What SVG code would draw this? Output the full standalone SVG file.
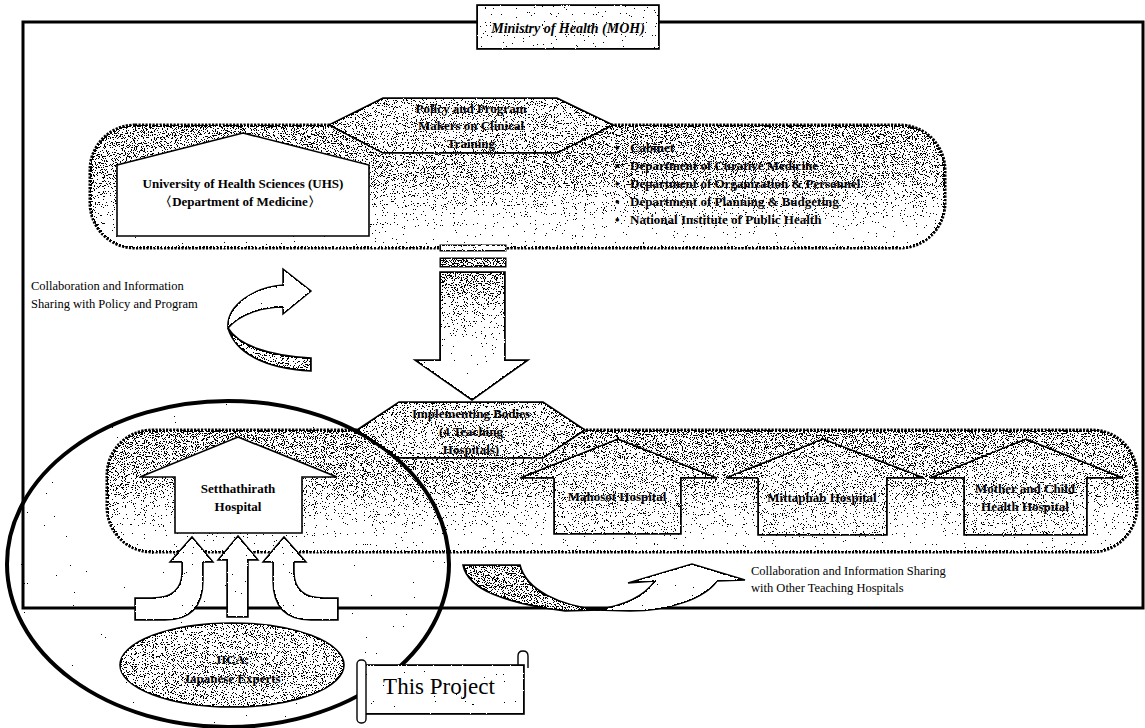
<svg xmlns="http://www.w3.org/2000/svg" width="1145" height="728" viewBox="0 0 1145 728">
<style>
.lbl{font-family:"Liberation Serif","Times New Roman",serif;font-weight:bold;font-size:13px;fill:#000}
.reg{font-family:"Liberation Serif","Times New Roman",serif;font-size:12.5px;fill:#000}
.ln{stroke:#000;stroke-width:1.6;stroke-linejoin:miter}
.dots{fill:url(#gCont);stroke:#000;stroke-width:3;stroke-dasharray:2.2 1.3;filter:url(#st)}
.house{fill:url(#gHouse);stroke:#000;stroke-width:1.6;filter:url(#st)}
.hex{fill:#aaaaaa;stroke:#000;stroke-width:1.6;filter:url(#st)}
.arw{fill:#ededed;stroke:#000;stroke-width:1.5;stroke-linejoin:miter;filter:url(#st)}
.stp{filter:url(#st)}
</style>
<defs>
<filter id="st" color-interpolation-filters="sRGB" x="-3%" y="-3%" width="106%" height="106%">
<feTurbulence type="fractalNoise" baseFrequency="0.9" numOctaves="2" seed="7" result="tn"/>
<feColorMatrix in="tn" type="matrix" values="0 0 0 0 0  0 0 0 0 0  0 0 0 0 0  1.5 0 0 0 -0.25" result="na0"/>
<feComponentTransfer in="na0" result="na"><feFuncA type="linear" slope="0.96" intercept="0.02"/></feComponentTransfer>
<feColorMatrix in="SourceGraphic" type="matrix" values="0 0 0 0 0  0 0 0 0 0  0 0 0 0 0  1 0 0 0 0" result="sa"/>
<feComposite in="sa" in2="na" operator="arithmetic" k1="0" k2="1" k3="-1" k4="0.5" result="diff"/>
<feComponentTransfer in="diff" result="mask"><feFuncA type="discrete" tableValues="0 1"/></feComponentTransfer>
<feFlood flood-color="#000" result="blk"/>
<feFlood flood-color="#fff" result="wht"/>
<feComposite in="wht" in2="mask" operator="in" result="w"/>
<feMerge result="m"><feMergeNode in="blk"/><feMergeNode in="w"/></feMerge>
<feComposite in="m" in2="SourceAlpha" operator="in"/>
</filter>
<linearGradient id="gCont" x1="0" y1="0" x2="0" y2="1">
<stop offset="0" stop-color="#979797"/>
<stop offset="0.45" stop-color="#a4a4a4"/>
<stop offset="0.8" stop-color="#cecece"/>
<stop offset="1" stop-color="#e6e6e6"/>
</linearGradient>
<linearGradient id="gHouse" x1="0" y1="0" x2="0" y2="1">
<stop offset="0" stop-color="#a4a4a4"/>
<stop offset="1" stop-color="#b8b8b8"/>
</linearGradient>
<linearGradient id="gShaft" x1="0" y1="0" x2="0" y2="1">
<stop offset="0" stop-color="#8e8e8e"/>
<stop offset="0.7" stop-color="#e4e4e4"/>
<stop offset="1" stop-color="#ffffff"/>
</linearGradient>
</defs>
<rect x="0" y="0" width="1145" height="728" fill="#fff"/>

<g id="project-area">
<ellipse class="stp" cx="228" cy="564" rx="221" ry="163" fill="#f6f6f6"/>
</g>

<g id="moh-frame">
<rect x="23" y="22" width="1120" height="586" fill="none" stroke="#000" stroke-width="3"/>
</g>

<g id="moh-label">
<rect class="stp" x="477" y="5" width="182" height="44" fill="#d6d6d6" stroke="#000" stroke-width="1.6"/>
<text x="568" y="33" text-anchor="middle" style="font-family:'Liberation Serif','Times New Roman',serif;font-weight:bold;font-style:italic;font-size:14px">Ministry of Health (MOH)</text>
</g>

<g id="policy-group">
<rect class="dots" x="90" y="125" width="855" height="123" rx="45" ry="45"/>
</g>

<g id="uhs">
<polygon points="117,165 243,133 369,165 369,236 117,236" fill="#fff" stroke="#000" stroke-width="1.6"/>
<text class="lbl" x="243" y="188" text-anchor="middle">University of Health Sciences (UHS)</text>
<text class="lbl" x="240" y="206" text-anchor="middle">〈Department of Medicine〉</text>
</g>

<g id="policy-makers">
<polygon class="hex" points="329,125 383,98 557,98 613,125 557,153 383,153"/>
<text class="lbl" x="471" y="113" text-anchor="middle">Policy and Program</text>
<text class="lbl" x="471" y="130" text-anchor="middle">Makers on Clinical</text>
<text class="lbl" x="471" y="148" text-anchor="middle">Training</text>
</g>

<g id="policy-list">
<text class="lbl" x="615" y="152">•</text><text class="lbl" x="630" y="152">Cabinet</text>
<text class="lbl" x="615" y="170">•</text><text class="lbl" x="630" y="170">Department of Curative Medicine</text>
<text class="lbl" x="615" y="188">•</text><text class="lbl" x="630" y="188">Department of Organization &amp; Personnel</text>
<text class="lbl" x="615" y="206">•</text><text class="lbl" x="630" y="206">Department of Planning &amp; Budgeting</text>
<text class="lbl" x="615" y="224">•</text><text class="lbl" x="630" y="224">National Institute of Public Health</text>
</g>

<g id="hospitals-group">
<rect class="dots" x="107" y="430" width="1030" height="122" rx="45" ry="45"/>
</g>

<g id="setthathirath">
<polygon points="140,477 238,437 337,477 302,477 302,533 175,533 175,477" fill="#fff" stroke="#000" stroke-width="1.6"/>
<text class="lbl" x="238" y="493" text-anchor="middle">Setthathirath</text>
<text class="lbl" x="238" y="511" text-anchor="middle">Hospital</text>
</g>

<g id="mahosot">
<polygon class="house" points="520,478 618,439 717,478 681,478 681,534 554,534 554,478"/>
<text class="lbl" x="617" y="501" text-anchor="middle">Mahosot Hospital</text>
</g>

<g id="mittaphab">
<polygon class="house" points="726,478 823,439 924,478 887,478 887,535 758,535 758,478"/>
<text class="lbl" x="822" y="502" text-anchor="middle">Mittaphab Hospital</text>
</g>

<g id="mother-child">
<polygon class="house" points="930,478 1026,439 1123,478 1087,478 1087,535 964,535 964,478"/>
<text class="lbl" x="1025" y="493" text-anchor="middle">Mother and Child</text>
<text class="lbl" x="1025" y="511" text-anchor="middle">Health Hospital</text>
</g>

<g id="project-outline">
<ellipse cx="228" cy="564" rx="221" ry="163" fill="none" stroke="#000" stroke-width="4"/>
</g>

<g id="implementing">
<polygon class="hex" points="357,430 399,402 543,402 585,430 543,458 399,458"/>
<text class="lbl" x="471" y="418" text-anchor="middle">Implementing Bodies</text>
<text class="lbl" x="471" y="436" text-anchor="middle">(4 Teaching</text>
<text class="lbl" x="471" y="454" text-anchor="middle">Hospitals)</text>
</g>

<g id="connectors">
<rect class="stp" x="440" y="245" width="66" height="6" fill="#c8c8c8" stroke="#000" stroke-width="1"/>
<rect class="stp" x="440" y="258" width="66" height="9" fill="#8c8c8c" stroke="#000" stroke-width="1"/>
<path class="ln stp" d="M440,272 L505,272 L505,360 L528,360 L472,400 L415,360 L440,360 Z" fill="url(#gShaft)"/>
<path class="ln stp" d="M228,328 C238,345 268,356 311,358 L311,371 C262,368 235,352 228,328 Z" fill="#a4a4a4"/>
<path class="arw" d="M228,328 C226,305 255,287 283,285 L283,269 L311,291 L283,314 L283,307 C262,307 240,314 228,328 Z" style="fill:#f8f8f8"/>
<path class="ln stp" d="M463,565 L520,565 C526,590 560,606 600,610 L565,611 C505,603 468,590 463,565 Z" fill="#969696"/>
<path class="arw" d="M595,610 C625,606 645,595 655,581 L628,583 L692,564 L745,580 L717,581 C705,598 670,611 630,611 Z"/>
<path class="arw" d="M135,598 L152,598 Q182,598 182,572 L182,562 L170,562 L192,537 L213,562 L203,562 L203,580 Q203,620 165,620 L135,620 Z"/>
<path class="arw" d="M227,617 L227,560 L218,560 L238,536 L258,560 L248,560 L248,617 Z"/>
<path class="arw" transform="translate(476,0) scale(-1,1)" d="M138,598 L152,598 Q182,598 182,572 L182,562 L170,562 L192,537 L213,562 L203,562 L203,580 Q203,620 165,620 L138,620 Z"/>
</g>

<g id="collab-policy-label">
<text class="reg" x="31" y="290">Collaboration and Information</text>
<text class="reg" x="31" y="308">Sharing with Policy and Program</text>
</g>

<g id="collab-hospitals-label">
<text class="reg" x="751" y="575">Collaboration and Information Sharing</text>
<text class="reg" x="751" y="592">with Other Teaching Hospitals</text>
</g>

<g id="jica">
<ellipse class="stp" cx="232" cy="665" rx="112" ry="42" fill="#a6a6a6" stroke="#000" stroke-width="1.6"/>
<text class="lbl" x="232" y="664" text-anchor="middle">JICA:</text>
<text class="lbl" x="232" y="683" text-anchor="middle">Japanese Experts</text>
</g>

<g id="this-project">
<path d="M518,668 L518,656 Q518,651 523,651 Q528,651 528,656 L528,668" fill="#fff" stroke="#000" stroke-width="1.4"/>
<rect class="stp" x="364" y="665" width="160" height="49" fill="#ececec" stroke="#000" stroke-width="1.6"/>
<rect x="357" y="660" width="9" height="63" rx="4" ry="4" fill="#fff" stroke="#000" stroke-width="1.4"/>
<text x="439" y="694" text-anchor="middle" style="font-family:'Liberation Serif','Times New Roman',serif;font-size:23px">This Project</text>
</g>
</svg>
